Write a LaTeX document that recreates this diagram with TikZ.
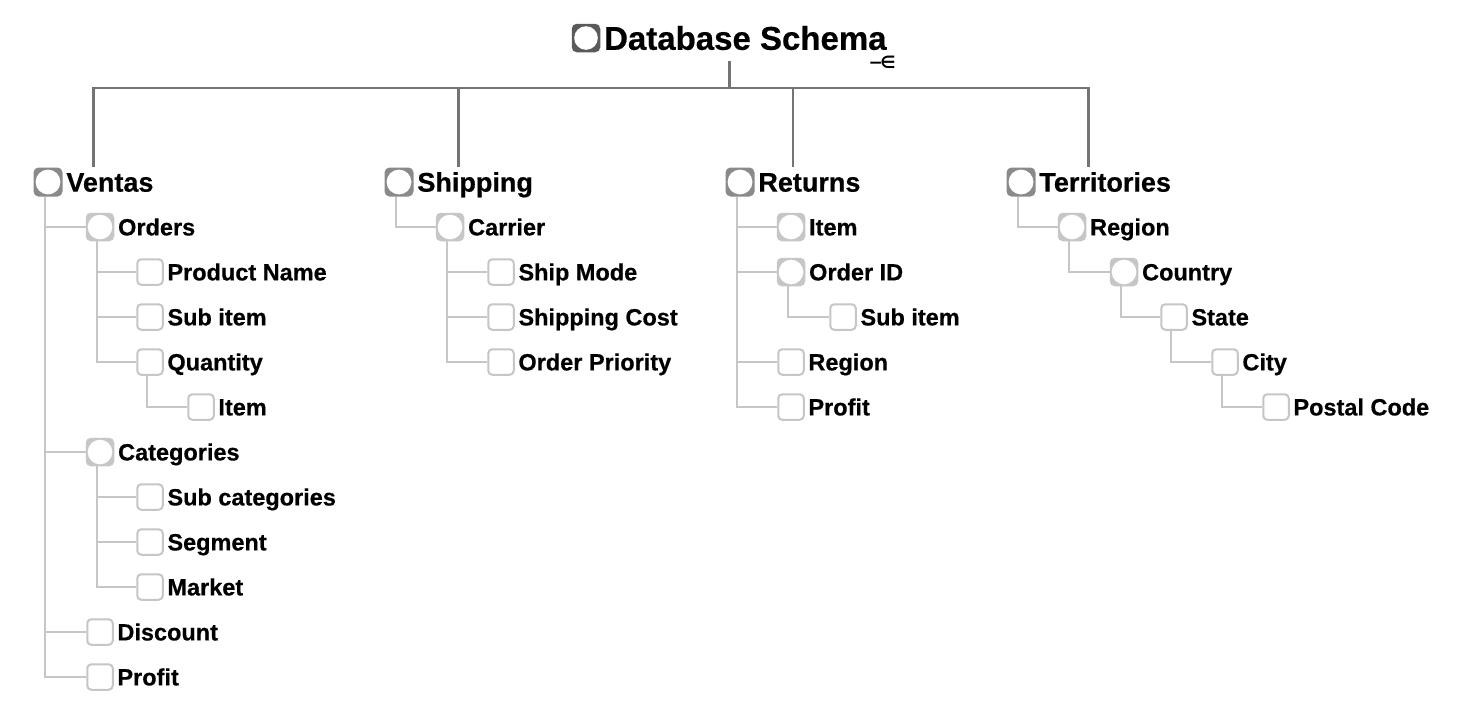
\documentclass[tikz,border=0pt]{standalone}
\usepackage{fontspec}
\setmainfont{Liberation Sans}[BoldFont={Liberation Sans Bold}, BoldFeatures={FakeBold=0.5}]
\newfontfamily\dejavu{DejaVu Sans}
\usetikzlibrary{fit}
\definecolor{dg}{HTML}{5A5A5A}
\definecolor{mg}{HTML}{8A8A8A}
\definecolor{tl}{HTML}{747474}
\definecolor{lg}{HTML}{C6C6C6}
\newcommand\tnode[4]{%
  \node[#1] (#2) at (#3,#4) {};
}
\newcommand\tlabel[3]{\node[#1] (#2t) at ([xshift=3.5pt]#2.east) {#3};}
\newcommand\conn[2]{\draw[subline] ([xshift=-3pt]#1.south) |- (#2.west);}
\begin{document}
\begin{tikzpicture}[x=1pt,y=-1pt,
  leafbox/.style={draw=lg, line width=2pt, fill=white, rounded corners=4pt, minimum size=25.5pt, inner sep=0pt},
  grpbox/.style={fill=lg, rounded corners=5pt, minimum size=28.5pt, inner sep=0pt,
     path picture={\fill[white] (path picture bounding box.center) circle (12.3pt);}},
  topbox/.style={grpbox, fill=mg, minimum size=29pt,
     path picture={\fill[white] (path picture bounding box.center) circle (12.4pt);}},
  titlebox/.style={grpbox, fill=dg,
     path picture={\fill[white] (path picture bounding box.center) circle (11.8pt);}},
  lbl/.style={anchor=west, inner sep=0pt, text depth=0pt},
  sublbl/.style={lbl, font=\bfseries\fontsize{23.5}{27}\selectfont, text height=16.8pt},
  toplbl/.style={lbl, font=\bfseries\fontsize{27}{31}\selectfont, text height=19.3pt},
  ttllbl/.style={lbl, font=\bfseries\fontsize{33}{38}\selectfont, text height=23.6pt},
  subline/.style={draw=lg, line width=2.8pt},
  topline/.style={draw=tl, line width=2.8pt},
]
\fill[white] (0,0) rectangle (1468,724);
\useasboundingbox (0,0) rectangle (1468,724);

% title
\tnode{titlebox}{T}{586}{38}
\tlabel{ttllbl}{T}{Database Schema}
\node[fit=(T)(Tt), inner sep=0pt] (Tall) {};
\node[inner sep=0pt, font=\dejavu\bfseries\fontsize{17}{17}\selectfont] (mark) at (882,62) {−\kern-2.5pt∈};

% top-level
\tnode{topbox}{V}{48}{182}\tlabel{toplbl}{V}{Ventas}
\tnode{topbox}{S}{399}{182}\tlabel{toplbl}{S}{Shipping}
\tnode{topbox}{R}{740}{182}\tlabel{toplbl}{R}{Returns}
\tnode{topbox}{Te}{1021}{182}\tlabel{toplbl}{Te}{Territories}
\node[fit=(V)(Vt), inner sep=0pt] (Vall) {};
\node[fit=(S)(St), inner sep=0pt] (Sall) {};
\node[fit=(R)(Rt), inner sep=0pt] (Rall) {};
\node[fit=(Te)(Tet), inner sep=0pt] (Teall) {};

\coordinate (bus) at (Tall.south |- 0,88);
\draw[topline] ([yshift=-8pt]Tall.south) -- (bus);
\draw[topline] (Vall.north) |- (bus) -| (Teall.north);
\draw[topline] (Sall.north) -- (Sall.north |- bus);
\draw[topline] (Rall.north) -- (Rall.north |- bus);

% Ventas subtree
\tnode{grpbox}{Vo}{100}{227}\tlabel{sublbl}{Vo}{Orders}
\tnode{leafbox}{Vop}{150}{272}\tlabel{sublbl}{Vop}{Product Name}
\tnode{leafbox}{Vos}{150}{317}\tlabel{sublbl}{Vos}{Sub item}
\tnode{leafbox}{Voq}{150}{362}\tlabel{sublbl}{Voq}{Quantity}
\tnode{leafbox}{Voqi}{201}{407}\tlabel{sublbl}{Voqi}{Item}
\tnode{grpbox}{Vc}{100}{452}\tlabel{sublbl}{Vc}{Categories}
\tnode{leafbox}{Vcs}{150}{497}\tlabel{sublbl}{Vcs}{Sub categories}
\tnode{leafbox}{Vcg}{150}{542}\tlabel{sublbl}{Vcg}{Segment}
\tnode{leafbox}{Vcm}{150}{587}\tlabel{sublbl}{Vcm}{Market}
\tnode{leafbox}{Vd}{100}{632}\tlabel{sublbl}{Vd}{Discount}
\tnode{leafbox}{Vp}{100}{677}\tlabel{sublbl}{Vp}{Profit}
\conn{V}{Vo}\conn{V}{Vc}\conn{V}{Vd}\conn{V}{Vp}
\conn{Vo}{Vop}\conn{Vo}{Vos}\conn{Vo}{Voq}
\conn{Voq}{Voqi}
\conn{Vc}{Vcs}\conn{Vc}{Vcg}\conn{Vc}{Vcm}

% Shipping subtree
\tnode{grpbox}{Sc}{450}{227}\tlabel{sublbl}{Sc}{Carrier}
\tnode{leafbox}{Scm}{501}{272}\tlabel{sublbl}{Scm}{Ship Mode}
\tnode{leafbox}{Scc}{501}{317}\tlabel{sublbl}{Scc}{Shipping Cost}
\tnode{leafbox}{Scp}{501}{362}\tlabel{sublbl}{Scp}{Order Priority}
\conn{S}{Sc}
\conn{Sc}{Scm}\conn{Sc}{Scc}\conn{Sc}{Scp}

% Returns subtree
\tnode{grpbox}{Ri}{791}{227}\tlabel{sublbl}{Ri}{Item}
\tnode{grpbox}{Ro}{791}{272}\tlabel{sublbl}{Ro}{Order ID}
\tnode{leafbox}{Ros}{843}{317}\tlabel{sublbl}{Ros}{Sub item}
\tnode{leafbox}{Rr}{791}{362}\tlabel{sublbl}{Rr}{Region}
\tnode{leafbox}{Rp}{791}{407}\tlabel{sublbl}{Rp}{Profit}
\conn{R}{Ri}\conn{R}{Ro}\conn{R}{Rr}\conn{R}{Rp}
\conn{Ro}{Ros}

% Territories subtree
\tnode{grpbox}{Ter}{1072}{227}\tlabel{sublbl}{Ter}{Region}
\tnode{grpbox}{Tec}{1124}{272}\tlabel{sublbl}{Tec}{Country}
\tnode{leafbox}{Tes}{1174}{317}\tlabel{sublbl}{Tes}{State}
\tnode{leafbox}{Tey}{1225}{362}\tlabel{sublbl}{Tey}{City}
\tnode{leafbox}{Tep}{1276}{407}\tlabel{sublbl}{Tep}{Postal Code}
\conn{Te}{Ter}\conn{Ter}{Tec}\conn{Tec}{Tes}\conn{Tes}{Tey}\conn{Tey}{Tep}
\end{tikzpicture}
\end{document}
